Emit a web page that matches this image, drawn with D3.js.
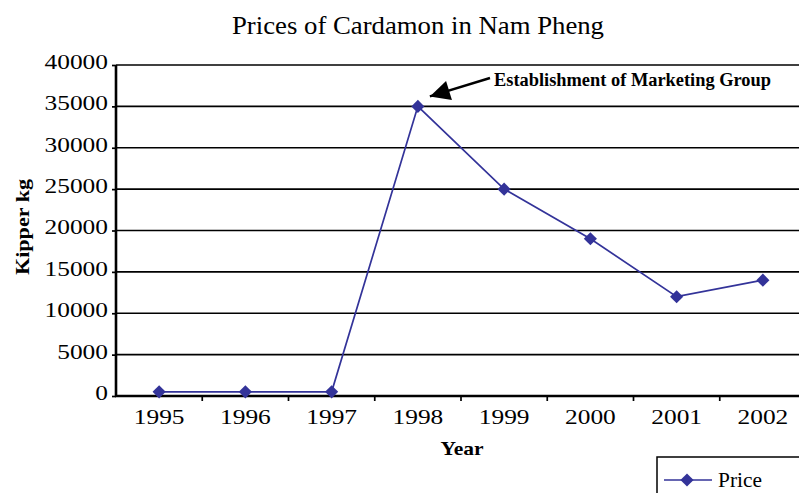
<!DOCTYPE html>
<html>
<head>
<meta charset="utf-8">
<script src="https://cdn.jsdelivr.net/npm/d3@7"></script>
<style>
  html, body { margin: 0; padding: 0; background: #fff; }
  svg { display: block; }
  svg text { font-family: "Liberation Serif", "Times New Roman", Times, serif !important; fill: #000; }
</style>
</head>
<body>
<svg id="chart" width="799" height="493"></svg>
<script>
// Cardamon price per kg, Nam Pheng
const years = ["1995", "1996", "1997", "1998", "1999", "2000", "2001", "2002"];
const prices = [500, 500, 500, 35000, 25000, 19000, 12000, 14000];
const yTicks = [0, 5000, 10000, 15000, 20000, 25000, 30000, 35000, 40000];

const LINE = "#333399";
const svg = d3.select("#chart");
const W = 799, H = 493;
const margin = { left: 116, top: 65, right: -7, bottom: 97 };
const x0 = margin.left, x1 = W - margin.right;
const y0 = H - margin.bottom, y1 = margin.top;

const x = d3.scaleBand().domain(years).range([x0, x1]);
const y = d3.scaleLinear().domain([0, 40000]).range([y0, y1]);

// widen glyphs horizontally by a factor, keeping the anchor
function stretch(sel, k) {
  sel.each(function () {
    const w = this.getComputedTextLength();
    d3.select(this).attr("textLength", w * k).attr("lengthAdjust", "spacingAndGlyphs");
  });
}

// horizontal gridlines
svg.append("g")
  .selectAll("line")
  .data(yTicks.filter(d => d > 0))
  .join("line")
  .attr("x1", x0).attr("x2", x1)
  .attr("y1", d => y(d)).attr("y2", d => y(d))
  .attr("stroke", "#000").attr("stroke-width", 1.7);

// y axis
const yAxis = svg.append("g")
  .attr("transform", `translate(${x0},0)`)
  .call(d3.axisLeft(y).tickValues(yTicks).tickSize(4).tickPadding(4).tickFormat(d3.format("d")));
yAxis.select(".domain").attr("stroke-width", 2.6).attr("d", `M0,${y1}V${y0 + 1}`);
yAxis.selectAll(".tick line").attr("stroke-width", 1.7);
yAxis.selectAll("text").attr("font-size", 20).attr("dy", "0.17em");
stretch(yAxis.selectAll("text"), 1.27);

// x axis, ticks on band boundaries
const xAxis = svg.append("g")
  .attr("transform", `translate(0,${y0})`)
  .call(d3.axisBottom(x).tickSize(0));
xAxis.select(".domain").attr("stroke-width", 2.6).attr("d", `M${x0 - 1},0H${x1}`);
xAxis.selectAll("text").attr("font-size", 20).attr("y", 28).attr("dy", 0);
stretch(xAxis.selectAll("text"), 1.27);
xAxis.selectAll(".bound")
  .data(years.slice(1))
  .join("line")
  .attr("class", "bound")
  .attr("x1", d => x(d)).attr("x2", d => x(d))
  .attr("y1", 0).attr("y2", 5)
  .attr("stroke", "#000").attr("stroke-width", 1.7);

// price line with diamond markers
const pts = years.map((yr, i) => [yr, prices[i]]);
const cx = d => x(d) + x.bandwidth() / 2;
svg.append("path")
  .datum(pts)
  .attr("fill", "none")
  .attr("stroke", LINE)
  .attr("stroke-width", 1.7)
  .attr("d", d3.line().x(d => cx(d[0])).y(d => y(d[1])));

const diamond = d3.symbol().type(d3.symbolSquare).size(86);
svg.append("g")
  .selectAll("path")
  .data(pts)
  .join("path")
  .attr("d", diamond)
  .attr("transform", d => `translate(${cx(d[0])},${y(d[1])}) rotate(45)`)
  .attr("fill", LINE);

// titles
svg.append("text")
  .attr("x", 418).attr("y", 34)
  .attr("text-anchor", "middle")
  .attr("font-size", 25)
  .attr("textLength", 372).attr("lengthAdjust", "spacingAndGlyphs")
  .text("Prices of Cardamon in Nam Pheng");

svg.append("text")
  .attr("x", 462).attr("y", 455)
  .attr("text-anchor", "middle")
  .attr("font-size", 19).attr("font-weight", "bold")
  .attr("textLength", 43).attr("lengthAdjust", "spacingAndGlyphs")
  .text("Year");

svg.append("text")
  .attr("transform", "translate(29,227) rotate(-90)")
  .attr("text-anchor", "middle")
  .attr("font-size", 19).attr("font-weight", "bold")
  .attr("textLength", 96).attr("lengthAdjust", "spacingAndGlyphs")
  .text("Kipper kg");

// annotation pointing at the 1998 peak
const peakX = cx("1998"), peakY = y(35000);
svg.append("defs").append("marker")
  .attr("id", "head")
  .attr("viewBox", "0 0 10 10")
  .attr("refX", 10).attr("refY", 5)
  .attr("markerWidth", 9).attr("markerHeight", 8)
  .attr("markerUnits", "strokeWidth")
  .attr("orient", "auto")
  .append("path").attr("d", "M0,0L10,5L0,10Z").attr("fill", "#000");
svg.append("line")
  .attr("x1", 490).attr("y1", 78)
  .attr("x2", peakX + 12).attr("y2", peakY - 10)
  .attr("stroke", "#000").attr("stroke-width", 2.5)
  .attr("marker-end", "url(#head)");
svg.append("text")
  .attr("x", 494).attr("y", 86)
  .attr("font-size", 18).attr("font-weight", "bold")
  .attr("textLength", 277).attr("lengthAdjust", "spacingAndGlyphs")
  .text("Establishment of Marketing Group");

// legend
const lg = svg.append("g").attr("transform", "translate(657,457)");
lg.append("rect")
  .attr("width", 160).attr("height", 50)
  .attr("fill", "#fff").attr("stroke", "#000").attr("stroke-width", 1.5);
lg.append("line")
  .attr("x1", 7).attr("x2", 55).attr("y1", 23).attr("y2", 23)
  .attr("stroke", LINE).attr("stroke-width", 1.7);
lg.append("path")
  .attr("d", diamond)
  .attr("transform", "translate(30,23) rotate(45)")
  .attr("fill", LINE);
lg.append("text")
  .attr("x", 61).attr("y", 30)
  .attr("font-size", 20)
  .attr("textLength", 44).attr("lengthAdjust", "spacingAndGlyphs")
  .text("Price");
</script>
</body>
</html>
